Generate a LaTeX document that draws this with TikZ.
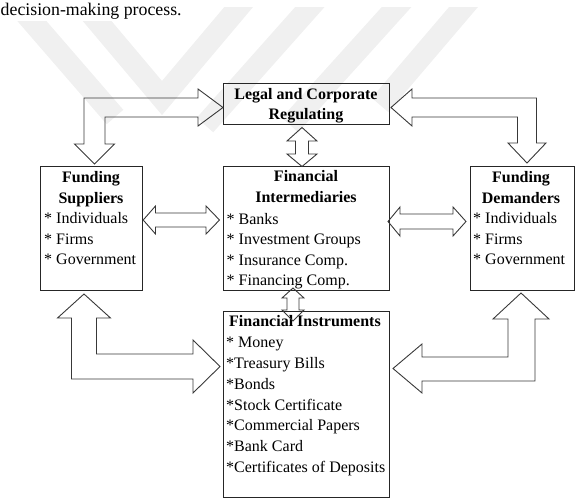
\documentclass[tikz,border=0pt]{standalone}
\usepackage{fontspec}
\setmainfont{Liberation Serif}
\begin{document}
\begin{tikzpicture}[x=1pt,y=-1pt,
  box/.style={draw=black!85, line width=1.2pt, inner sep=0pt, anchor=north west},
  blk/.style={draw=black!78, line width=0.9pt, line join=miter},
  ttl/.style={font=\fontsize{16}{20}\selectfont\bfseries, anchor=base, inner sep=0pt},
  itm/.style={font=\fontsize{16}{20}\selectfont, anchor=base west, inner sep=0pt},
  wm/.style={line width=22pt, draw=black!6, line join=miter}
]
\useasboundingbox (0,0) rectangle (576,498);

% faint watermark stripes
\begin{scope}
  \clip (0,21) -- (190,21) -- (190,7) -- (576,7) -- (576,330) -- (0,330) -- cycle;
  \draw[wm] (71,-10) -- (162,98) -- (253,-10);
  \draw[wm] (5,-10) -- (115,117);
  \draw[wm] (325,-10) -- (205,125);
  \draw[wm] (412,-10) -- (290,125);
  \draw[wm] (478,-10) -- (380,105);
\end{scope}

% intro text
\node[itm, font=\fontsize{17.8}{20}\selectfont] (intro) at (0.5,15) {decision-making process.};

% boxes
\node[box, minimum width=166pt, minimum height=41pt]  (legal) at (223,83)  {};
\node[box, minimum width=102pt, minimum height=124pt] (sup)   at (40,166)  {};
\node[box, minimum width=166pt, minimum height=124pt] (inter) at (223,166) {};
\node[box, minimum width=104pt, minimum height=124pt] (dem)   at (470,166) {};
\node[box, minimum width=166pt, minimum height=186pt] (inst)  at (223,311) {};

% titles
\node[ttl] (legal-t1) at (306,99.3)  {Legal and Corporate};
\node[ttl] (legal-t2) at (306,119.5) {Regulating};
\node[ttl] (sup-t1)   at (91,182.7)  {Funding};
\node[ttl] (sup-t2)   at (91,203)    {Suppliers};
\node[ttl] (inter-t1) at (306,181)   {Financial};
\node[ttl] (inter-t2) at (306,202.7) {Intermediaries};
\node[ttl] (dem-t1)   at (521,182.7) {Funding};
\node[ttl] (dem-t2)   at (521,203)   {Demanders};
\node[ttl] (inst-t1)  at (305,326.7) {Financial Instruments};

% items
\foreach \t [count=\i] in {* Individuals,* Firms,* Government}
  \node[itm] (sup-i\i) at (44,{223.8+20.5*(\i-1)}) {\t};
\foreach \t [count=\i] in {* Individuals,* Firms,* Government}
  \node[itm] (dem-i\i) at (473,{223.8+20.5*(\i-1)}) {\t};
\foreach \t [count=\i] in {* Banks,* Investment Groups,* Insurance Comp.,* Financing Comp.}
  \node[itm] (inter-i\i) at (226.5,{224+20.6*(\i-1)}) {\t};
\foreach \t [count=\i] in {* Money,*Treasury Bills,*Bonds,*Stock Certificate,*Commercial Papers,*Bank Card,*Certificates of Deposits}
  \node[itm] (inst-i\i) at (226,{347.3+20.9*(\i-1)}) {\t};

% block arrows
% Legal <-> Suppliers (elbow)
\draw[blk] (84,98) -- (198,98) -- (198,89) -- (legal.west |- 0,107.5) -- (198,126) -- (198,117)
  -- (105,117) -- (105,144) -- (114.5,144) -- (94.5,164) -- (74.5,144) -- (84,144) -- cycle;
% Legal <-> Demanders (elbow)
\draw[blk] (536.5,98) -- (412,98) -- (412,89) -- (391,107.5) -- (412,126) -- (412,117)
  -- (517.5,117) -- (517.5,143) -- (508,143) -- (527,163) -- (546,143) -- (536.5,143) -- cycle;
% Suppliers <-> Intermediaries
\draw[blk] (sup.east |- 0,220) -- (155.5,206) -- (155.5,213) -- (206,213) -- (206,206) -- (219.5,220)
  -- (206,234) -- (206,227) -- (155.5,227) -- (155.5,234) -- cycle;
% Intermediaries <-> Demanders
\draw[blk] (388,221.5) -- (400,207) -- (400,214) -- (453,214) -- (453,207) -- (466,221.5)
  -- (453,236) -- (453,229) -- (400,229) -- (400,236) -- cycle;
% Legal <-> Intermediaries
\draw[blk] (302,127.5) -- (317,141) -- (308.5,141) -- (308.5,154) -- (317,154) -- (302,166.5)
  -- (287,154) -- (295.5,154) -- (295.5,141) -- (287,141) -- cycle;
% Intermediaries <-> Instruments
\draw[blk] (293,288) -- (304,298) -- (299,298) -- (299,310) -- (304,310) -- (293,321)
  -- (282,310) -- (287,310) -- (287,298) -- (282,298) -- cycle;
% Suppliers <-> Instruments (elbow)
\draw[blk] (84,294) -- (110.5,318) -- (96.5,318) -- (96.5,354) -- (193,354) -- (193,340)
  -- (220,366.5) -- (193,393) -- (193,379) -- (71.5,379) -- (71.5,318) -- (57.5,318) -- cycle;
% Demanders <-> Instruments (elbow)
\draw[blk] (521,293) -- (549,319) -- (535,319) -- (535,381) -- (422,381) -- (422,393)
  -- (393,368.5) -- (422,344) -- (422,357) -- (508,357) -- (508,319) -- (493,319) -- cycle;
\end{tikzpicture}
\end{document}
